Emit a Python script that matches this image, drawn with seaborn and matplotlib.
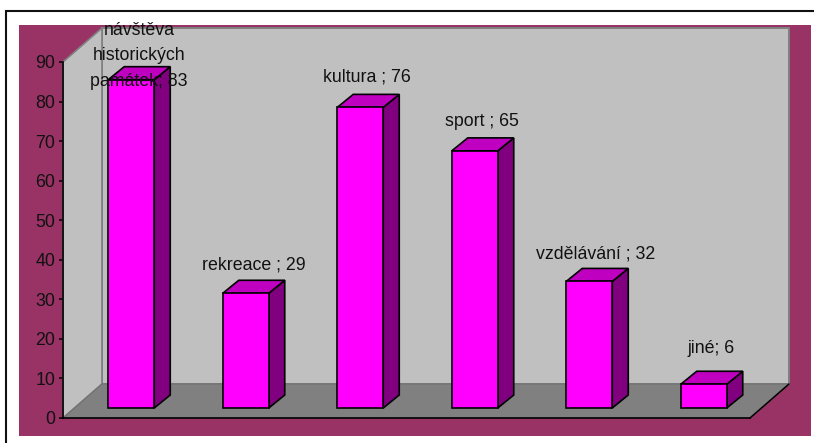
import matplotlib
matplotlib.use("Agg")
import matplotlib.pyplot as plt
from matplotlib.patches import Polygon, Rectangle
import pandas as pd
import seaborn as sns

# data
kategorie = ["návštěva\nhistorických\npamátek", "rekreace ", "kultura ", "sport ", "vzdělávání ", "jiné"]
hodnoty = [83, 29, 76, 65, 32, 6]
y_ticks = [0, 10, 20, 30, 40, 50, 60, 70, 80, 90]

MAROON = "#993366"
WALL = "#C0C0C0"
FLOOR = "#808080"

sns.set_theme(style="white")
plt.rcParams["font.family"] = ["Liberation Sans", "DejaVu Sans"]

W, H = 814, 443
fig = plt.figure(figsize=(W / 100, H / 100), dpi=100, facecolor="white")

# outer frame and maroon plot area, in pixels (frame runs off the image right and below)
bg = fig.add_axes([0, 0, 1, 1], zorder=0)
bg.set_xlim(0, W)
bg.set_ylim(H, 0)
bg.axis("off")
bg.add_patch(Rectangle((5.5, 10.8), 830, 460, fc="white", ec="#111111", lw=1.5))
bg.add_patch(Rectangle((19, 25), 792, 411, fc=MAROON, ec="none"))

# axes = front plane of the chart
L, R, T, B = 63, 750, 62, 418
ax = fig.add_axes([L / W, 1 - B / H, (R - L) / W, (B - T) / H], zorder=1)
ax.patch.set_alpha(0)

df = pd.DataFrame({"kategorie": kategorie, "hodnota": hodnoty})
px = 6 / (R - L)
py = 90 / (B - T)
# wall depth and bar depth in data units
dx, dy = 39 * px, 34 * py
bx, by = 11 * px, 10 * py
sx, sy = 16 * px, 13 * py
sirka = 46 * px

x0, x1 = -0.5, 5.5
top = 90
ax.add_patch(Polygon([(x0 + dx, dy), (x1 + dx, dy), (x1 + dx, top + dy), (x0 + dx, top + dy)],
                     fc=WALL, ec="#808080", lw=1.4, clip_on=False, zorder=1))
ax.add_patch(Polygon([(x0, 0), (x0 + dx, dy), (x0 + dx, top + dy), (x0, top)],
                     fc=WALL, ec="#808080", lw=1.2, clip_on=False, zorder=1))
ax.add_patch(Polygon([(x0, 0), (x1, 0), (x1 + dx, dy), (x0 + dx, dy)],
                     fc=FLOOR, ec="#707070", lw=0.8, clip_on=False, zorder=1.5))
ax.plot([x1, x1 + dx], [0, dy], color="black", lw=1.1, clip_on=False, zorder=1.6)

sns.barplot(data=df, x="kategorie", y="hodnota", ax=ax, color="#FF00FF", saturation=1,
            width=sirka, bottom=by, edgecolor="black", linewidth=1.2, zorder=3)
for b, v in zip(ax.patches[3:], hodnoty):
    b.set_x(b.get_x() + bx)
    xl, xr = b.get_x(), b.get_x() + b.get_width()
    yl, yt = by, by + v
    ax.add_patch(Polygon([(xr, yl), (xr + sx, yl + sy), (xr + sx, yt + sy), (xr, yt)],
                         fc="#800080", ec="black", lw=1.2, clip_on=False, zorder=3))
    ax.add_patch(Polygon([(xl, yt), (xr, yt), (xr + sx, yt + sy), (xl + sx, yt + sy)],
                         fc="#C000C0", ec="black", lw=1.2, clip_on=False, zorder=3))
    b.set_clip_on(False)
    b.set_zorder(3.5)

# label placement relative to the bar: px sideways, px above the back edge of the top
posun_x = [0, 0, -1, -1, -2, -1]
posun_y = [11, 15, 17, 16, 14, 23]
for i, (k, v) in enumerate(zip(kategorie, hodnoty)):
    ax.text(i + bx + sx / 2 + posun_x[i] * px, by + v + sy + posun_y[i] * py, f"{k}; {v}",
            ha="center", va="center", fontsize=12.8, color="#111111", linespacing=1.65,
            zorder=5, clip_on=False)

ax.set_xlim(x0, x1)
ax.set_ylim(0, 90)
ax.set_yticks(y_ticks)
ax.set_xticks([])
ax.set_xlabel("")
ax.set_ylabel("")
ax.tick_params(axis="y", left=True, length=3, width=1.1, color="black", labelsize=12.8, pad=2.5,
               labelcolor="#111111")
for s in ["top", "right"]:
    ax.spines[s].set_visible(False)
for s in ["left", "bottom"]:
    ax.spines[s].set_visible(True)
    ax.spines[s].set_color("black")
    ax.spines[s].set_linewidth(1.2)
    ax.spines[s].set_zorder(2)

fig.savefig("out.png", dpi=100, facecolor="white")
